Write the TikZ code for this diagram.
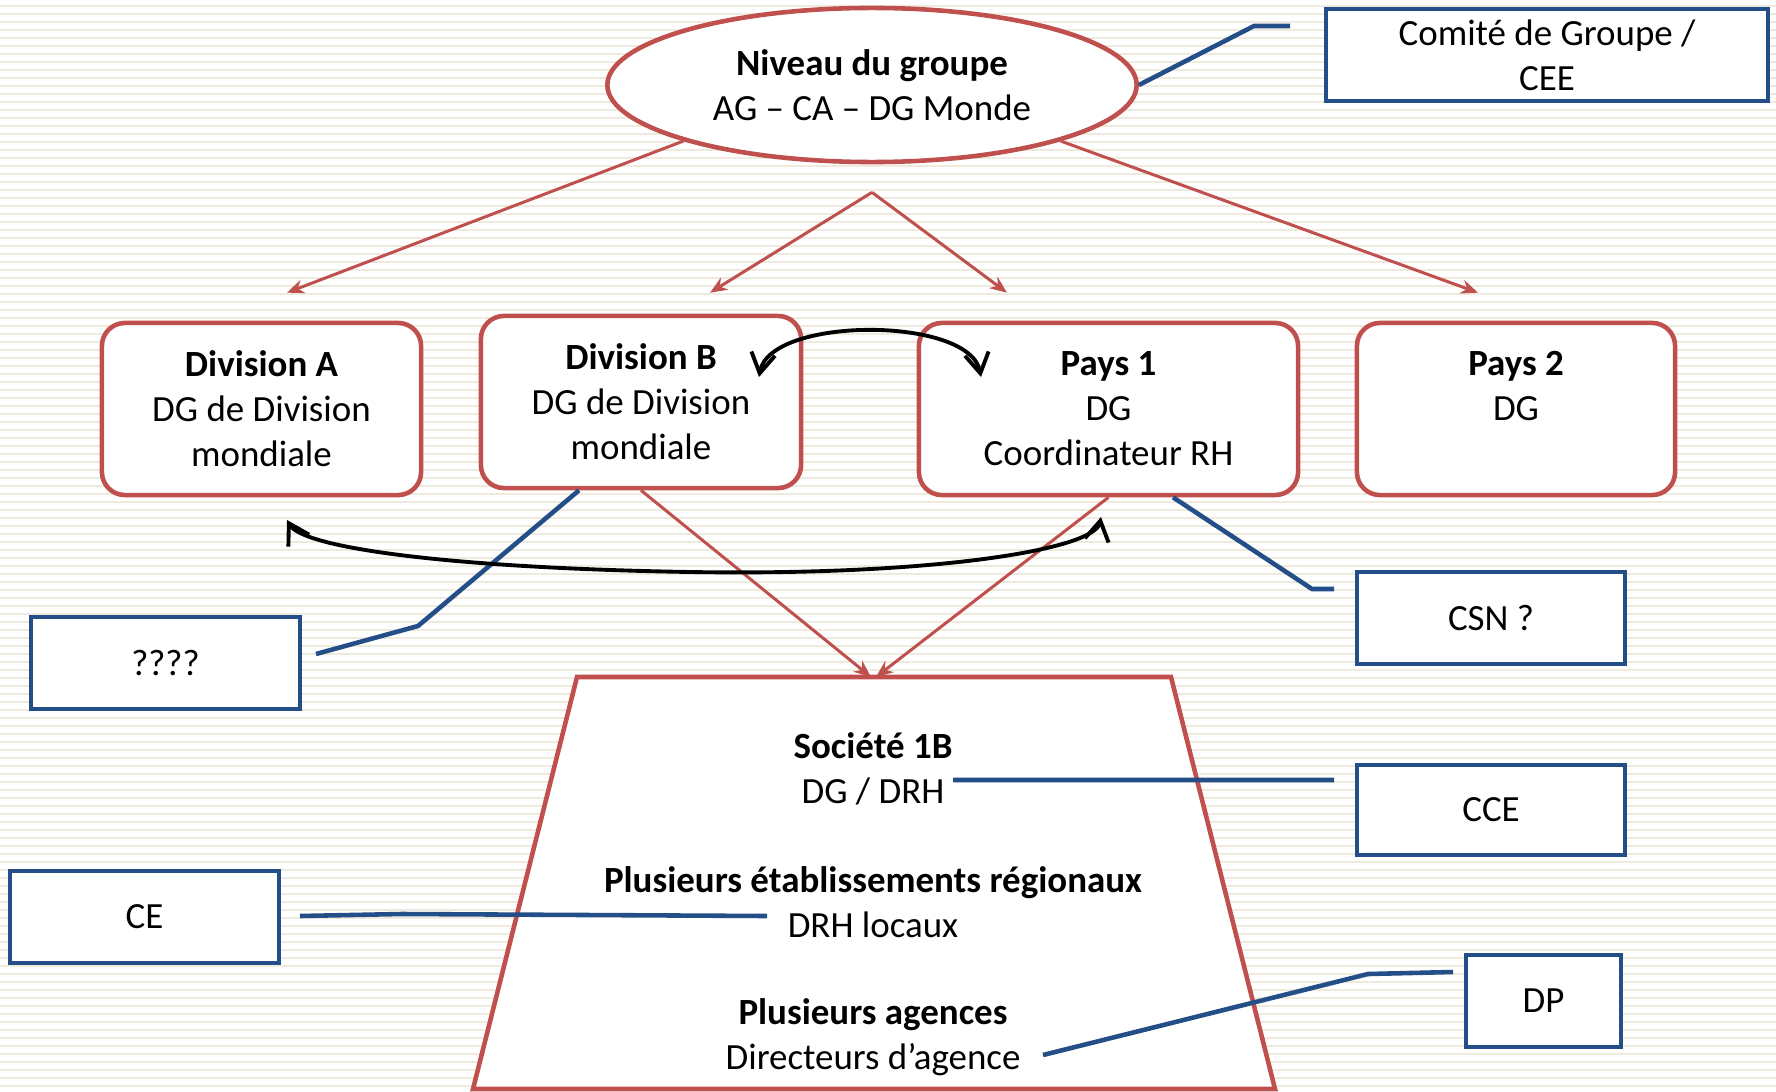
\documentclass[tikz,border=0pt]{standalone}
\usepackage{fontspec}
\setmainfont{Carlito}
\usetikzlibrary{shapes.geometric,arrows.meta}

\definecolor{cadrerouge}{RGB}{192,80,77}
\definecolor{cadrebleu}{RGB}{36,78,135}
\definecolor{rayure}{RGB}{238,234,222}

\begin{document}
\begin{tikzpicture}[x=0.01cm,y=-0.01cm,
    every node/.style={font=\fontsize{10.5}{12.8}\selectfont, align=center, inner sep=0pt},
    niveau/.style={draw=cadrerouge, line width=1.3pt, fill=white, rounded corners=0.23cm, minimum height=1.72cm},
    instance/.style={draw=cadrebleu, line width=1.2pt, fill=white, minimum height=0.92cm},
    fleche/.style={draw=cadrerouge, line width=0.85pt, -{Stealth[length=1.7mm,width=1.4mm]}},
    lien/.style={draw=cadrebleu, line width=1.3pt},
    echange/.style={draw=black, line width=1.1pt, {Straight Barb[length=2mm,width=2.4mm]}-{Straight Barb[length=2mm,width=2.4mm]}}]

    % fond raye
    \useasboundingbox (0,0) rectangle (1776,1091);
    \fill[white] (0,0) rectangle (1776,1091);
    \foreach \y in {6,14,...,1090}
      \draw[rayure, line width=0.57pt] (0,\y) -- (1776,\y);

    % societe
    \filldraw[draw=cadrerouge, line width=1.3pt, fill=white] (577,677) -- (1171,677) -- (1275,1089) -- (473,1089) -- cycle;
    \coordinate (soc) at (873,677);
    \node (soc1) at (873,768.5) {\textbf{Société 1B}\\DG / DRH};
    \node (soc2) at (873,902.5) {\textbf{Plusieurs établissements régionaux}\\DRH locaux};
    \node (soc3) at (873,1037) {\textbf{Plusieurs agences}\\Directeurs d’agence};

    \node[ellipse, draw=cadrerouge, line width=1.3pt, fill=white, minimum width=5.29cm, minimum height=1.54cm] (grp) at (872,85) {\textbf{Niveau du groupe}\\AG – CA – DG Monde};

    \node[niveau, minimum width=3.19cm] (divA) at (261.5,409) {\textbf{Division A}\\DG de Division\\mondiale};
    \node[niveau, minimum width=3.20cm] (divB) at (641,402) {\textbf{Division B}\\DG de Division\\mondiale};
    \node[niveau, minimum width=3.79cm] (pays1) at (1108.5,409) {\textbf{Pays 1}\\DG\\Coordinateur RH};
    \node[niveau, minimum width=3.18cm] (pays2) at (1516,409) {\textbf{Pays 2}\\DG\\\phantom{DG}};

    \node[instance, minimum width=4.42cm] (cee) at (1547,55) {Comité de Groupe /\\CEE};
    \node[instance, minimum width=2.68cm] (csn) at (1491,618) {CSN ?};
    \node[instance, minimum width=2.68cm, minimum height=0.90cm] (cce) at (1491,810) {CCE};
    \node[instance, minimum width=1.55cm] (dp) at (1543.5,1001) {DP};
    \node[instance, minimum width=2.69cm] (qqq) at (165.5,663) {????};
    \node[instance, minimum width=2.69cm] (ce) at (144.5,917) {CE};

    % fleches hierarchiques
    \coordinate (fourche) at ([yshift=-0.28cm]grp.south);
    \draw[fleche] (grp.south west) -- ([xshift=0.255cm,yshift=0.28cm]divA.north);
    \draw[fleche] (grp.south east) -- ([xshift=-0.38cm,yshift=0.28cm]pays2.north);
    \draw[fleche] (fourche) -- ([xshift=0.69cm,yshift=0.21cm]divB.north);
    \draw[fleche] (fourche) -- ([xshift=-1.015cm,yshift=0.28cm]pays1.north);
    \draw[fleche] (divB.south) -- ([xshift=-0.02cm]soc);
    \draw[fleche] (pays1.south) -- ([xshift=0.03cm]soc);

    % instances representatives
    \draw[lien] (grp.east) -- (1254,26) -- (1290,26);
    \draw[lien] ([xshift=-0.62cm]divB.south) -- (418,626) -- (316,654);
    \draw[lien] ([xshift=0.645cm]pays1.south) -- (1312,589) -- (1334,589);
    \draw[lien] ([yshift=-0.115cm]soc1.east) -- (1334,780);
    \draw[lien] (300,916) -- (402,914) -- (767,916);
    \draw[lien] (1043,1055) -- (1368,974) -- (1453,972);

    % echanges
    \coordinate (echB) at (759,377);
    \coordinate (echP) at (981,377);
    \coordinate (echA) at (287,520);
    \coordinate (echQ) at (1101,517);
    \draw[echange] (echB) .. controls (770,316) and (970,316) .. (echP);
    \draw[echange] (echA) .. controls (303,548) and (450,568) .. (690,572)
      .. controls (930,576) and (1095,550) .. (echQ);

\end{tikzpicture}
\end{document}
